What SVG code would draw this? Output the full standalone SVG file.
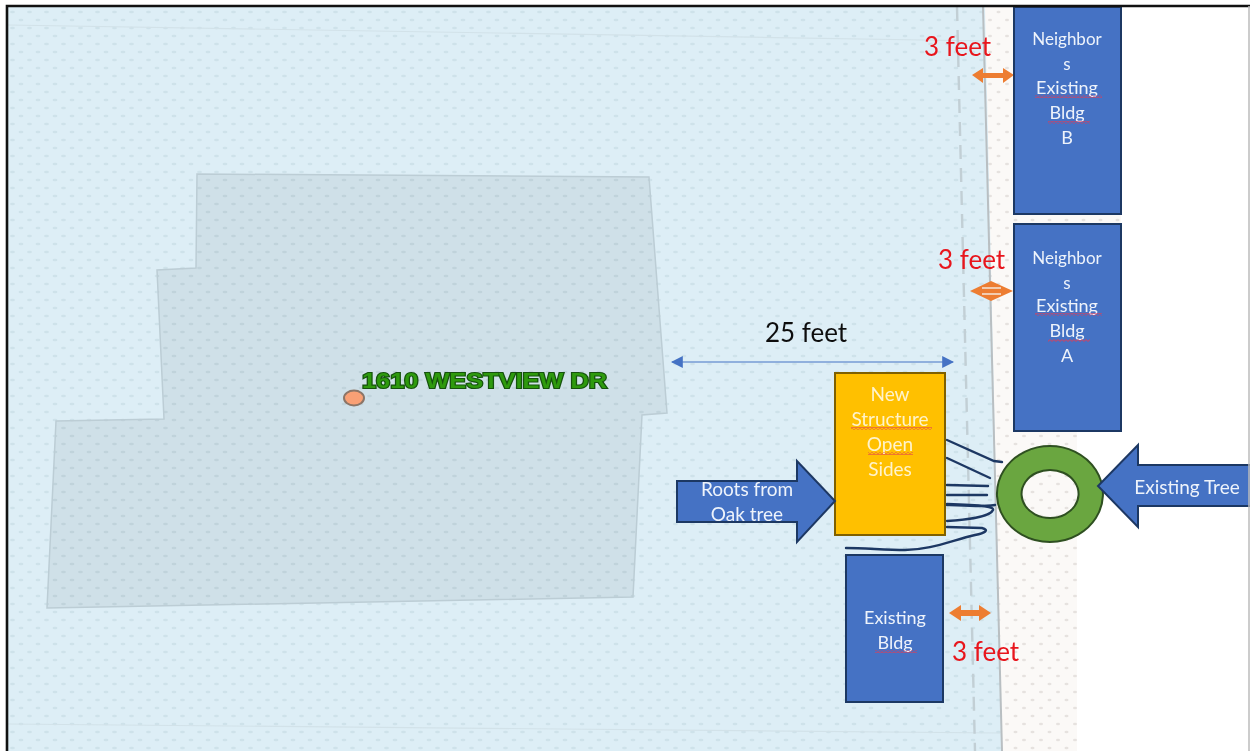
<svg xmlns="http://www.w3.org/2000/svg" width="1250" height="751" viewBox="0 0 1250 751">
<style>
text{font-family:Lato,"Open Sans","Liberation Sans",sans-serif}
.bl{fill:#4472c4;stroke:#1f3864;stroke-width:2}
.wt{fill:#eef3fb;font-size:18px;text-anchor:middle}
.nb{font-size:17px}
.yt{fill:#fff3cc;font-size:19px;text-anchor:middle}
.red{fill:#e8141c;font-size:26px}
.or{fill:#ed7d31}
.root{fill:none;stroke:#1f3864;stroke-width:2.4;stroke-linecap:round}
.sq{fill:url(#wave)}
</style>
<defs>
<filter id="soft" x="0" y="0" width="100%" height="100%"><feGaussianBlur stdDeviation="0.45"/></filter>
<pattern id="dotsB" width="17" height="16" patternUnits="userSpaceOnUse">
<rect width="17" height="16" fill="#ddeef6"/>
<ellipse cx="4" cy="4" rx="2.4" ry="1.2" fill="#cee2ea"/>
<ellipse cx="12.5" cy="12" rx="2.4" ry="1.2" fill="#cee2ea"/>
</pattern>
<pattern id="dotsH" width="17" height="16" patternUnits="userSpaceOnUse">
<rect width="17" height="16" fill="#cfe0e8"/>
<ellipse cx="4" cy="4" rx="2.4" ry="1.2" fill="#c0d3db"/>
<ellipse cx="12.5" cy="12" rx="2.4" ry="1.2" fill="#c0d3db"/>
</pattern>
<pattern id="dotsS" width="17" height="16" patternUnits="userSpaceOnUse">
<rect width="17" height="16" fill="#fbf9f7"/>
<ellipse cx="4" cy="4" rx="2" ry="1.3" fill="#e6e2df"/>
<ellipse cx="12.5" cy="12" rx="2" ry="1.3" fill="#e6e2df"/>
</pattern>
<pattern id="wave" width="4" height="3" patternUnits="userSpaceOnUse">
<path d="M0 2.4 L2 .6 L4 2.4" fill="none" stroke="#e23a55" stroke-width="1"/>
</pattern>
<marker id="blueA" viewBox="0 0 10 10" refX="9" refY="5" markerWidth="12" markerHeight="12" markerUnits="userSpaceOnUse" orient="auto-start-reverse">
<path d="M0 0L10 5L0 10Z" fill="#4472c4"/>
</marker>
</defs>

<rect width="1250" height="751" fill="#fff"/>
<g filter="url(#soft)">
<g id="ground">
<path d="M985 7H1121V430H1077V751H1000Z" fill="url(#dotsS)"/>
<path d="M8 7H985L1002 751H8Z" fill="url(#dotsB)"/>
<path d="M8 25L985 41M8 724L1000 733" fill="none" stroke="#d2e2e9" stroke-width="1.2"/>
<path d="M983 7L1002 751" fill="none" stroke="#b9bfc2" stroke-width="2"/>
<path d="M957 7L975 751" fill="none" stroke="#c2cfd5" stroke-width="2.4" stroke-dasharray="14 9"/>
</g>
<g id="parcel">
<path d="M197 174L649 177L667 413L642 415L633 597L47 608L56 421L164 419L157 270L196 268Z" fill="url(#dotsH)" stroke="#bccdd5" stroke-width="1.5"/>
</g>
<g id="address">
<ellipse cx="354" cy="398" rx="10" ry="7.5" fill="#f9a074" stroke="#8b7567" stroke-width="2"/>
<text x="362" y="388" style="font-family:'Liberation Sans',sans-serif" font-size="22" font-weight="700" fill="#2e9a0e" stroke="#15520a" stroke-width="2.2" paint-order="stroke" textLength="245" lengthAdjust="spacingAndGlyphs">1610 WESTVIEW DR</text>
</g>
<g id="connectors">
<path d="M672 362L953 362" fill="none" stroke="#4472c4" stroke-width="1.2" marker-start="url(#blueA)" marker-end="url(#blueA)"/>
<path class="or" d="M972 75L983 68V73H1003V68L1014 75L1003 83V78H983V83Z"/>
<path class="or" d="M970 291L991 281L1013 291L991 301Z"/>
<path d="M982 288H1001M982 294H1001" stroke="#f4e6da" stroke-width="1.4" fill="none"/>
<path class="or" d="M949 613L961 605V610H979V605L991 613L979 621V616H961V621Z"/>
<path class="root" d="M947 440L994 461L1002 462"/>
<path class="root" d="M947 458L990 478"/>
<path class="root" d="M947 485L988 486"/>
<path class="root" d="M947 495L987 495"/>
<path class="root" d="M947 505C965 506 980 507 995 505"/>
<path class="root" d="M947 521C965 520 990 517 993 510C994 507 985 505 947 504"/>
<path class="root" d="M947 527L982 528C990 530 985 533 975 535C950 541 930 550 905 550C885 550 865 548 846 548"/>
</g>
<g id="bldg-b">
<rect class="bl" x="1014" y="7" width="107" height="207"/>
<text class="wt"><tspan class="nb" x="1067" y="45">Neighbor</tspan><tspan class="nb" x="1067" y="70">s</tspan><tspan x="1067" y="94">Existing</tspan><tspan x="1067" y="119">Bldg</tspan><tspan x="1067" y="144">B</tspan></text>
<rect class="sq" x="1035" y="95" width="67" height="3"/>
<rect class="sq" x="1048" y="121" width="42" height="3"/>
</g>
<g id="bldg-a">
<rect class="bl" x="1014" y="224" width="107" height="207"/>
<text class="wt"><tspan class="nb" x="1067" y="264">Neighbor</tspan><tspan class="nb" x="1067" y="289">s</tspan><tspan x="1067" y="312">Existing</tspan><tspan x="1067" y="337">Bldg</tspan><tspan x="1067" y="362">A</tspan></text>
<rect class="sq" x="1035" y="313" width="67" height="3"/>
<rect class="sq" x="1048" y="339" width="42" height="3"/>
</g>
<g id="new-structure">
<rect x="835" y="373" width="110" height="162" fill="#ffc000" stroke="#7f6000" stroke-width="2"/>
<text class="yt"><tspan x="890" y="401">New</tspan><tspan x="890" y="426">Structure</tspan><tspan x="890" y="451">Open</tspan><tspan x="890" y="476">Sides</tspan></text>
<rect class="sq" x="851" y="427" width="81" height="3"/>
<rect class="sq" x="868" y="452" width="45" height="3"/>
</g>
<g id="roots-arrow">
<path d="M677 481H797V461L835 501L797 542V522H677Z" fill="#4472c4" stroke="#1f3864" stroke-width="2"/>
<text class="wt" style="font-size:19px"><tspan x="747" y="496">Roots from</tspan><tspan x="747" y="521">Oak tree</tspan></text>
</g>
<g id="tree">
<path fill-rule="evenodd" d="M1050 446A53 48 0 1 1 1049.9 446ZM1050 470A28.5 24 0 1 0 1050.1 470Z" fill="#6aa63f" stroke="#2f5020" stroke-width="2"/>
</g>
<g id="tree-arrow">
<path d="M1250 465H1138V445L1098 486L1138 527V506H1250" fill="#4472c4" stroke="#1f3864" stroke-width="2"/>
<text class="wt" style="font-size:19px" x="1187" y="494">Existing Tree</text>
</g>
<g id="bldg-existing">
<rect class="bl" x="846" y="555" width="97" height="147"/>
<text class="wt"><tspan x="895" y="624">Existing</tspan><tspan x="895" y="649">Bldg</tspan></text>
<rect class="sq" x="875" y="650" width="42" height="3"/>
</g>
<g id="labels">
<text class="red" x="924" y="56">3 feet</text>
<text class="red" x="938" y="269">3 feet</text>
<text class="red" x="952" y="661">3 feet</text>
<text x="765" y="342" font-size="26" fill="#111">25 feet</text>
</g>
</g>
<g id="frame">
<path d="M7 751V6H1250" fill="none" stroke="#111" stroke-width="2.6"/>
<path d="M1249 6V751" fill="none" stroke="#bbb" stroke-width="1.5"/>
</g>
</svg>
